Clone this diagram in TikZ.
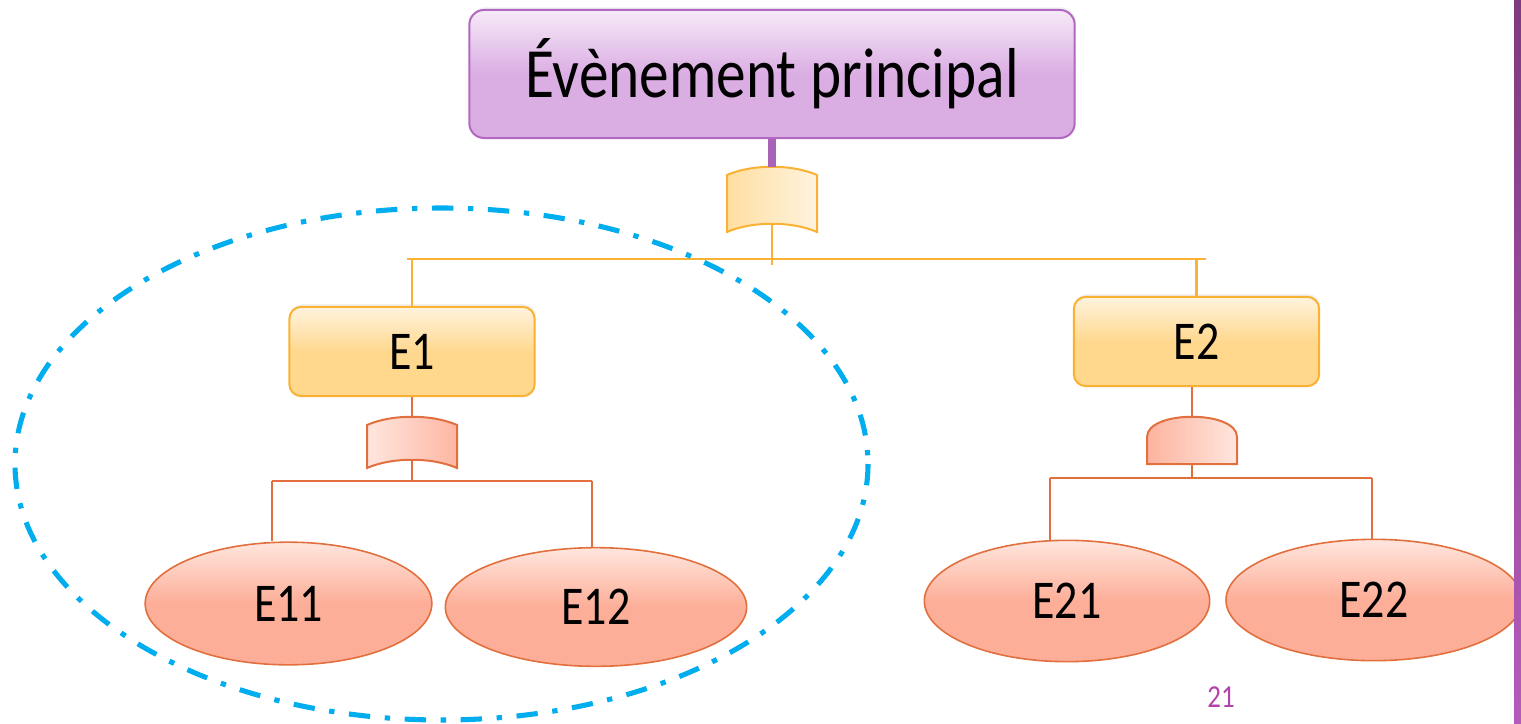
\documentclass[tikz,border=0pt]{standalone}
\usepackage{fontspec}
\setmainfont{Carlito}[FakeStretch=0.84]
\usepackage{xcolor}
\usetikzlibrary{shapes.geometric,shadows}

\definecolor{mainBorder}{RGB}{178,104,192}
\definecolor{mainTop}{RGB}{246,234,248}
\definecolor{mainBot}{RGB}{219,174,227}
\definecolor{mainLink}{RGB}{168,98,184}
\definecolor{boxBorder}{RGB}{249,178,52}
\definecolor{boxTop}{RGB}{255,243,222}
\definecolor{boxBot}{RGB}{255,216,142}
\definecolor{leafBorder}{RGB}{226,112,63}
\definecolor{leafTop}{RGB}{255,230,222}
\definecolor{leafBot}{RGB}{253,174,152}
\definecolor{focusBlue}{RGB}{0,174,239}
\definecolor{pageColor}{RGB}{176,68,168}
\definecolor{barTop}{RGB}{126,58,128}
\definecolor{barBot}{RGB}{181,91,187}

\tikzset{
  pics/orgate/.style={code={
    \path[pic actions] (-45,-#1) .. controls (-20,-#1-11) and (20,-#1-11) .. (45,-#1)
      -- (45,#1) .. controls (20,#1-11) and (-20,#1-11) .. (-45,#1) -- cycle;
    \coordinate (-top) at (0,-#1-8);
    \coordinate (-bot) at (0,#1-8);
  }},
  pics/andgate/.style={code={
    \path[pic actions] (-45,24) -- (-45,-3) .. controls (-45,-30) and (45,-30) .. (45,-3)
      -- (45,24) -- cycle;
    \coordinate (-top) at (0,-23);
    \coordinate (-bot) at (0,24);
  }}
}

\begin{document}
\begin{tikzpicture}[x=0.75pt,y=0.75pt,yscale=-1,xscale=1,
  softshadow/.style={drop shadow={opacity=0.12,shadow xshift=0.8pt,shadow yshift=2pt}},
  mainbox/.style={draw=mainBorder,line width=1.5pt,rounded corners=11pt,
    top color=mainTop,bottom color=mainBot,middle color=mainBot,
    minimum width=454pt,minimum height=96pt,softshadow,
    font=\fontsize{53}{58}\selectfont},
  evbox/.style={draw=boxBorder,line width=1.5pt,rounded corners=9pt,
    top color=boxTop,bottom color=boxBot,middle color=boxBot,
    minimum width=184pt,minimum height=67pt,softshadow,
    font=\fontsize{41}{44}\selectfont},
  leaf/.style={ellipse,draw=leafBorder,line width=1.2pt,
    top color=leafTop,bottom color=leafBot,middle color=leafBot,
    minimum width=215pt,minimum height=92pt,
    font=\fontsize{41}{44}\selectfont},
  goldgate/.style={transform shape,draw=boxBorder,line width=1.5pt,
    left color=boxBot!75!boxTop,middle color=boxBot,right color=boxTop},
  redgate/.style={transform shape,draw=leafBorder,line width=1.5pt,
    left color=leafTop,middle color=leafBot,right color=leafBot!85!leafTop},
  redgateb/.style={transform shape,draw=leafBorder,line width=1.5pt,
    left color=leafBot!90!leafTop,middle color=leafBot,right color=leafTop},
  mainlink/.style={draw=mainLink,line width=6pt},
  goldlink/.style={draw=boxBorder,line width=1.8pt},
  redlink/.style={draw=leafBorder,line width=1.8pt},
  focus/.style={draw=focusBlue,line width=3.8pt,
    dash pattern=on 16pt off 11pt on 4pt off 11pt},
  pagenum/.style={text=pageColor,font=\fontsize{24}{26}\selectfont}]
\useasboundingbox (0,0) rectangle (1521,724);

% Text Node
\node[mainbox] (main) at (772,74) {Évènement principal};
% Text Node
\node[evbox] (e1) at (412,351.5) {E1};
% Text Node
\node[evbox] (e2) at (1196.5,341.5) {E2};
% Text Node
\node[leaf] (e11) at (288.5,603.5) {E11};
% Text Node
\node[leaf,minimum width=226pt,minimum height=89pt] (e12) at (596,607) {E12};
% Text Node
\node[leaf,minimum width=214pt,minimum height=91pt] (e21) at (1067,601) {E21};
% Text Node
\node[leaf,minimum width=222pt,minimum height=91pt] (e22) at (1374,600) {E22};

% Gates
\pic[goldgate] (g0) at (772,203.5) {orgate=28.5};
\pic[redgate] (g1) at (412,446.5) {orgate=21.5};
\pic[redgateb] (g2) at (1192,440) {andgate};

\coordinate (bus0 west) at (407,259);
\coordinate (bus0 east) at (1206,259);
\coordinate (tail0) at (772,265);
\coordinate (bus1 west) at (272,481);
\coordinate (bus1 east) at (592,481);
\coordinate (tail1) at (412,481);
\coordinate (bus2 west) at (1050,478);
\coordinate (bus2 east) at (1372,478);
\coordinate (tail2) at (1192,478);

%Straight Lines
\draw[mainlink] (main.south) -- (g0-top);
\draw[goldlink] (g0-bot) -- (tail0);
\draw[goldlink] (bus0 west) -- (bus0 east);
\draw[goldlink] (e1.north) -- (e1.north |- bus0 west);
\draw[goldlink] (e2.north) -- (e2.north |- bus0 east);
%Straight Lines
\draw[redlink] (e1.south) -- (g1-top);
\draw[redlink] (g1-bot) -- (tail1);
\draw[redlink] (bus1 west) -- (bus1 east);
\draw[redlink] (bus1 west) -- (bus1 west |- e11.north);
\draw[redlink] (bus1 east) -- (bus1 east |- e12.north);
%Straight Lines
\draw[redlink] (g2-top |- e2.south) -- (g2-top);
\draw[redlink] (g2-bot) -- (tail2);
\draw[redlink] (bus2 west) -- (bus2 east);
\draw[redlink] (bus2 west) -- (bus2 west |- e21.north);
\draw[redlink] (bus2 east) -- (bus2 east |- e22.north);

% Focus ring
\draw[focus] (441.5,464) ellipse [x radius=426.5, y radius=256];

% Text Node
\node[pagenum] (page) at (1221,697) {21};
\shade[top color=barTop,bottom color=barBot] (1514,0) rectangle (1521,724);

\end{tikzpicture}
\end{document}
